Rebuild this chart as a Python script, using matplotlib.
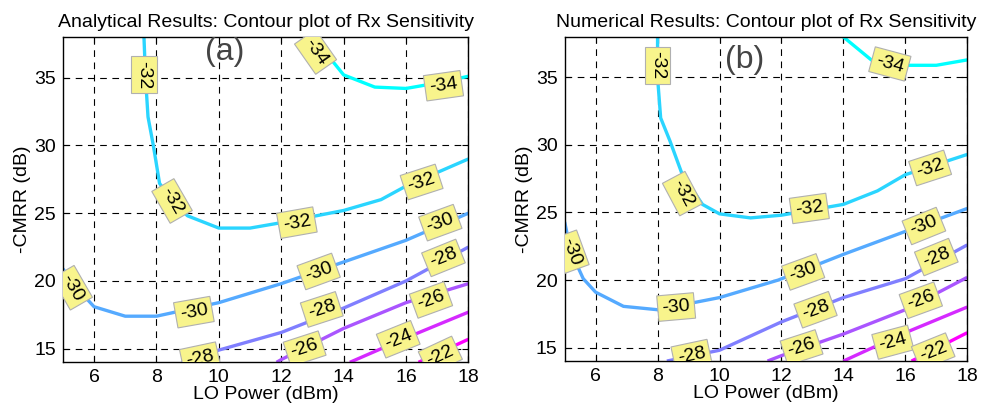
import matplotlib
matplotlib.use("Agg")
import matplotlib.pyplot as plt
import numpy as np

plt.rcParams['font.family'] = ['Liberation Sans', 'DejaVu Sans']

levels = [-34, -32, -30, -28, -26, -24, -22]

# (a) analytical contours
a_x34 = [12.9, 13.3, 14.0, 15.0, 16.0, 17.0, 18.0]
a_y34 = [38.0, 37.2, 35.2, 34.3, 34.2, 34.6, 35.1]
a_x32 = [7.6, 7.65, 7.73, 7.9, 8.1, 8.5, 9.0, 10.0, 11.0, 12.0, 14.0, 15.2, 16.0, 18.0]
a_y32 = [38.0, 35.0, 32.1, 30.0, 27.2, 25.9, 24.8, 23.9, 23.9, 24.3, 25.2, 26.0, 27.0, 29.0]
a_x30 = [5.0, 5.4, 6.0, 7.0, 8.0, 10.0, 12.0, 14.0, 16.0, 18.0]
a_y30 = [20.9, 19.6, 18.1, 17.4, 17.4, 18.4, 19.8, 21.4, 23.0, 25.0]
a_x28 = [8.8, 10.0, 12.0, 14.0, 16.0, 18.0]
a_y28 = [14.0, 14.9, 16.2, 18.0, 20.0, 22.5]
a_x26 = [11.85, 12.0, 14.0, 16.0, 18.0]
a_y26 = [14.0, 14.2, 16.5, 18.4, 19.8]
a_x24 = [14.2, 16.0, 18.0]
a_y24 = [14.0, 15.8, 17.7]
a_x22 = [16.4, 18.0]
a_y22 = [14.0, 15.7]

# (b) numerical contours
b_x34 = [14.0, 14.9, 16.0, 17.0, 18.0]
b_y34 = [38.0, 36.3, 35.9, 35.9, 36.3]
b_x32 = [8.0, 8.0, 8.1, 8.4, 8.8, 9.45, 10.0, 11.0, 12.0, 14.0, 15.1, 16.0, 18.0]
b_y32 = [38.0, 35.0, 32.0, 30.3, 27.8, 25.6, 24.9, 24.6, 24.8, 25.6, 26.6, 27.8, 29.3]
b_x30 = [5.0, 5.2, 5.6, 6.0, 6.9, 8.0, 10.0, 11.9, 14.0, 16.0, 18.0]
b_y30 = [24.3, 22.1, 20.1, 19.1, 18.05, 17.8, 18.7, 20.0, 21.9, 23.6, 25.3]
b_x28 = [8.3, 10.0, 12.0, 14.0, 16.0, 18.0]
b_y28 = [14.0, 14.8, 16.9, 18.7, 20.1, 22.6]
b_x26 = [11.55, 12.0, 14.0, 16.0, 18.0]
b_y26 = [14.0, 14.4, 16.0, 17.8, 20.2]
b_x24 = [14.0, 16.0, 18.0]
b_y24 = [14.0, 16.1, 18.0]
b_x22 = [16.2, 18.0]
b_y22 = [14.0, 16.1]

# contour labels: value, x, y, angle
a_lab_val = [-32, -34, -34, -32, -32, -32, -30, -28, -30, -30, -30, -28, -28, -26, -26, -24, -22]
a_lab_x = [7.6, 13.1, 17.2, 8.5, 12.5, 16.5, 17.1, 17.2, 5.3, 9.2, 13.2, 9.4, 13.3, 16.8, 12.75, 15.75, 17.1]
a_lab_y = [35.2, 36.9, 34.4, 25.9, 24.3, 27.3, 24.3, 21.7, 19.5, 17.7, 20.7, 14.3, 17.9, 18.6, 15.0, 15.7, 14.5]
a_lab_rot = [-90, -55, 8, -60, 10, 18, 20, 22, -60, 10, 20, 12, 18, 20, 18, 22, 25]

b_lab_val = [-32, -34, -32, -32, -32, -30, -30, -30, -30, -28, -28, -28, -26, -26, -24, -22]
b_lab_x = [8.0, 15.5, 8.8, 12.9, 16.8, 5.2, 8.6, 12.7, 16.6, 9.1, 13.1, 17.0, 12.65, 16.5, 15.6, 16.9]
b_lab_y = [35.9, 36.0, 26.4, 25.3, 28.3, 22.1, 18.0, 20.6, 24.0, 14.4, 17.8, 21.7, 15.0, 18.5, 15.4, 14.7]
b_lab_rot = [-90, -15, -62, 8, 18, -70, 5, 20, 22, 12, 20, 22, 18, 20, 15, 22]

titles = ["Analytical Results: Contour plot of Rx Sensitivity",
          "Numerical Results: Contour plot of Rx Sensitivity"]
tags = ["(a)", "(b)"]

cmap = plt.get_cmap("cool")
colors = {lv: cmap(i / 6) for i, lv in enumerate(levels)}

fig = plt.figure(figsize=(9.82, 4.15), dpi=100)
ax_a = fig.add_axes([0.064, 0.127, 0.413, 0.784])
ax_b = fig.add_axes([0.575, 0.130, 0.410, 0.781])

panels = [
    (ax_a, [(a_x34, a_y34), (a_x32, a_y32), (a_x30, a_y30), (a_x28, a_y28),
            (a_x26, a_y26), (a_x24, a_y24), (a_x22, a_y22)],
     a_lab_val, a_lab_x, a_lab_y, a_lab_rot, (10.2, 36.9)),
    (ax_b, [(b_x34, b_y34), (b_x32, b_y32), (b_x30, b_y30), (b_x28, b_y28),
            (b_x26, b_y26), (b_x24, b_y24), (b_x22, b_y22)],
     b_lab_val, b_lab_x, b_lab_y, b_lab_rot, (10.8, 36.3)),
]

for k, (ax, curves, lv, lx, ly, lr, tagpos) in enumerate(panels):
    for lvl, (xs, ys) in zip(levels, curves):
        ax.plot(xs, ys, color=colors[lvl], linewidth=2.4, solid_capstyle='butt', zorder=2)
    for v, x, y, r in zip(lv, lx, ly, lr):
        ax.text(x, y, str(v), rotation=r, ha='center', va='center', fontsize=14,
                rotation_mode='anchor', zorder=4, clip_on=True,
                bbox=dict(boxstyle='square,pad=0.22', facecolor='#f8f48c',
                          edgecolor='#b0b0b0', linewidth=0.8))
    ax.text(tagpos[0], tagpos[1], tags[k], fontsize=23, color='#444444',
            ha='center', va='center', zorder=3)
    ax.set_xlim(5, 18)
    ax.set_ylim(14, 38)
    ax.set_xticks([6, 8, 10, 12, 14, 16, 18])
    ax.set_yticks([15, 20, 25, 30, 35])
    ax.grid(True, color='black', linestyle=(0, (6, 5)), linewidth=0.8)
    ax.set_axisbelow(True)
    ax.tick_params(direction='in', top=True, right=True, labelsize=14, length=4, pad=5)
    ax.set_xlabel("LO Power (dBm)", fontsize=14, labelpad=0)
    ax.set_ylabel("-CMRR (dB)", fontsize=14, labelpad=2)
    ax.set_title(titles[k], fontsize=14, pad=7)
    for s in ax.spines.values():
        s.set_linewidth(1.0)

fig.savefig("out.png", dpi=100)
